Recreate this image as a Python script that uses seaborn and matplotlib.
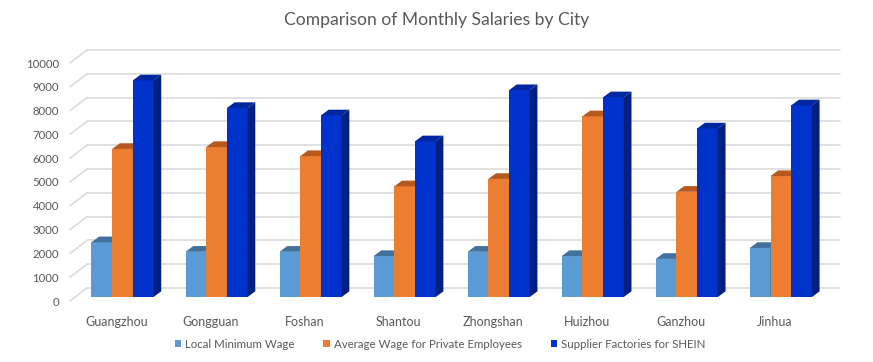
import matplotlib
matplotlib.use("Agg")
import matplotlib.pyplot as plt
import numpy as np
import pandas as pd
import seaborn as sns
from matplotlib.patches import Polygon, Patch
from matplotlib.transforms import offset_copy

cities = ["Guangzhou", "Gongguan", "Foshan", "Shantou", "Zhongshan",
          "Huizhou", "Ganzhou", "Jinhua"]
series = ["Local Minimum Wage", "Average Wage for Private Employees",
          "Supplier Factories for SHEIN"]
min_wage = [2300, 1900, 1900, 1720, 1900, 1720, 1600, 2060]
avg_private = [6220, 6300, 5920, 4650, 4960, 7590, 4420, 5080]
shein = [9100, 7940, 7630, 6540, 8690, 8390, 7080, 8050]
yticks = list(range(0, 10001, 1000))

front = ["#5B9BD5", "#ED7D31", "#0033CC"]
side = ["#3F6E9A", "#A9561F", "#001F80"]
top = ["#41719C", "#B5591E", "#00279F"]

df = pd.DataFrame({
    "city": cities * 3,
    "wage": min_wage + avg_private + shein,
    "series": np.repeat(series, len(cities)),
})

sns.set_theme(style="white")
plt.rcParams["font.family"] = ["Lato", "DejaVu Sans"]
txt = "#595959"

W, H = 873, 362
fig = plt.figure(figsize=(W / 100, H / 100), dpi=100)
ax_l, ax_r, ax_b, ax_t = 70, 840, 65, 303
ax = fig.add_axes([ax_l / W, ax_b / H, (ax_r - ax_l) / W, (ax_t - ax_b) / H])

# category spacing in pixels and first group centre
step, c0 = 94.05, 122.5
x0, x1 = (ax_l - c0) / step, (ax_r - c0) / step
ymax = 10000
xpu = step                      # px per x unit
ypu = (ax_t - ax_b) / ymax      # px per y unit

sns.barplot(data=df, x="city", y="wage", hue="series", hue_order=series,
            palette=front, saturation=1, width=0.66, ax=ax, legend=False)
ax.set_xlim(x0, x1)
ax.set_ylim(0, ymax)

# back wall gridlines + side wall diagonals
back_left = (87 - c0) / step
for v in yticks:
    yb = v + 9 / ypu
    ax.plot([back_left, x1], [yb, yb], color="#D9D9D9", lw=1.1,
            zorder=0, clip_on=False)
    ax.plot([x0, back_left], [v - 4 / ypu, yb], color="#D9D9D9", lw=1.1,
            zorder=0, clip_on=False)

# pseudo 3D faces
ddx, ddy = 7.7 / xpu, 5.7 / ypu
for i, cont in enumerate(ax.containers):
    for bar in cont:
        bx, bw, bh = bar.get_x(), bar.get_width(), bar.get_height()
        bar.set_zorder(3 + i)
        bar.set_edgecolor("none")
        ax.add_patch(Polygon([(bx + bw, 0), (bx + bw + ddx, ddy),
                              (bx + bw + ddx, bh + ddy), (bx + bw, bh)],
                             closed=True, fc=side[i], ec="none",
                             zorder=3 + i, clip_on=False))
        ax.add_patch(Polygon([(bx, bh), (bx + ddx, bh + ddy),
                              (bx + bw + ddx, bh + ddy), (bx + bw, bh)],
                             closed=True, fc=top[i], ec="none",
                             zorder=3 + i, clip_on=False))

for s in ax.spines.values():
    s.set_visible(False)
ax.set_xlabel("")
ax.set_ylabel("")
ax.set_yticks(yticks)
ax.set_yticklabels([str(v) for v in yticks], color=txt, fontsize=8.2)
ax.set_xticks(range(len(cities)))
ax.set_xticklabels(cities, color=txt, fontsize=9)
ax.tick_params(length=0, axis="y", pad=8)
ax.tick_params(length=0, axis="x", pad=14)
for lab in ax.get_xticklabels():
    lab.set_transform(offset_copy(lab.get_transform(), fig=fig, x=-6, y=0, units="dots"))
for lab in ax.get_yticklabels():
    lab.set_transform(offset_copy(lab.get_transform(), fig=fig, x=0, y=-4, units="dots"))

fig.text(0.5, 1 - 20 / H, "Comparison of Monthly Salaries by City",
         ha="center", va="center", color=txt, fontsize=12.6)

handles = [Patch(facecolor=c, edgecolor="none", label=s) for c, s in zip(front, series)]
fig.legend(handles=handles, loc="center", bbox_to_anchor=(440 / W, 18 / H),
           ncol=3, frameon=False, fontsize=8.3, handlelength=0.55, handleheight=0.6,
           handletextpad=0.35, columnspacing=2.5, labelcolor=txt)

fig.savefig("out.png", dpi=100)
